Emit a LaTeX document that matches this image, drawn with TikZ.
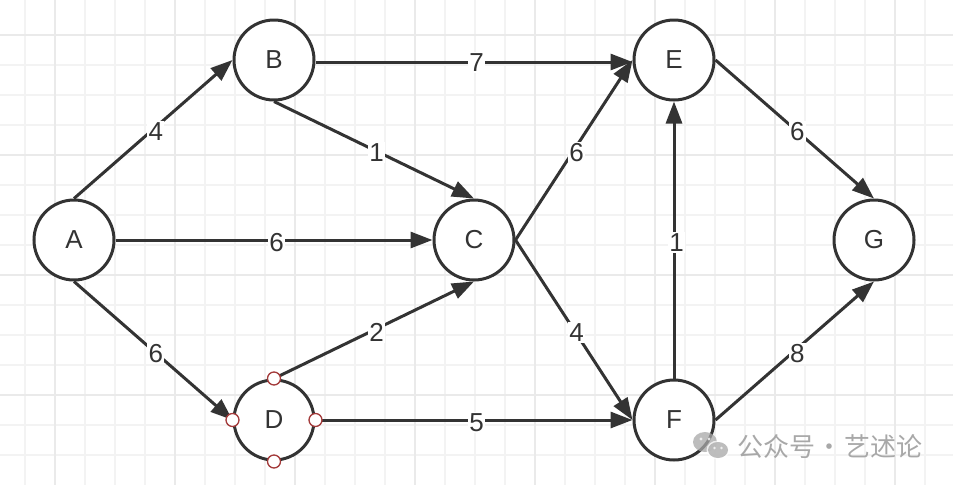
\documentclass[tikz,border=0pt]{standalone}
\usepackage{fontspec}
\setmainfont{Liberation Sans}
\newfontfamily\cjkfont{Noto Sans CJK SC}
\usetikzlibrary{arrows.meta}
\definecolor{ink}{HTML}{333333}
\definecolor{gridminor}{HTML}{F3F3F3}
\definecolor{gridmajor}{HTML}{EAEAEA}
\definecolor{handlered}{HTML}{A33A3A}
\definecolor{wm}{HTML}{A8A8A8}
\begin{document}
\begin{tikzpicture}[x=1pt,y=-1pt,
  vertex/.style={circle,draw=ink,line width=3pt,fill=white,minimum size=80pt,inner sep=0pt,
    font=\fontsize{26}{26}\selectfont,text=ink},
  edge/.style={draw=ink,line width=3pt,-{Triangle[length=22pt,width=16pt]}},
  wt/.style={fill=white,inner sep=1.5pt,xshift=2.5pt,yshift=-2.5pt,font=\fontsize{26}{26}\selectfont,text=ink},
  handle/.style={circle,draw=handlered,fill=white,line width=1.3pt,minimum size=13pt,inner sep=0pt}
]
\useasboundingbox (0,0) rectangle (953,485);
\fill[white] (0,0) rectangle (953,485);
% grid
\foreach \x in {25,55,...,925} {\draw[gridminor,line width=1.6pt] (\x,0) -- (\x,485);}
\foreach \y in {35,65,...,455} {\draw[gridminor,line width=1.6pt] (0,\y) -- (953,\y);}
\foreach \x in {55,175,...,895} {\draw[gridmajor,line width=2pt] (\x,0) -- (\x,485);}
\foreach \y in {35,155,275,395} {\draw[gridmajor,line width=2pt] (0,\y) -- (953,\y);}

% nodes
\node[vertex] (A) at (74,240) {A};
\node[vertex] (B) at (274,60) {B};
\node[vertex] (C) at (474,240) {C};
\node[vertex] (D) at (274,420) {D};
\node[vertex] (E) at (674,60) {E};
\node[vertex] (F) at (674,420) {F};
\node[vertex] (G) at (874,240) {G};

% edges
\draw[edge] (A.north) -- node[wt] {4} (B.west);
\draw[edge] (A.east) -- node[wt] {6} (C.west);
\draw[edge] (A.south) -- node[wt] {6} (D.west);
\draw[edge] ([yshift=-2pt]B.east) -- node[wt,yshift=2pt] {7} ([yshift=-2pt]E.west);
\draw[edge] (B.south) -- node[wt] {1} (C.north);
\draw[edge] (D.north) -- node[wt] {2} (C.south);
\draw[edge] (D.east) -- node[wt] {5} (F.west);
\draw[edge] (C.east) -- node[wt] {6} (E.west);
\draw[edge] (C.east) -- node[wt] {4} (F.west);
\draw[edge] (F.north) -- node[wt] {1} (E.south);
\draw[edge] (E.east) -- node[wt] {6} (G.north);
\draw[edge] (F.east) -- node[wt] {8} (G.south);

% selection handles on D
\node[handle] (Dn) at (D.north) {};
\node[handle] (Ds) at (D.south) {};
\node[handle] (De) at (D.east) {};
\node[handle] (Dw) at (D.west) {};

% watermark
\begin{scope}[opacity=0.75]
\fill[wm] (705,442) ellipse [x radius=12, y radius=10];
\fill[white] (718,450) ellipse [x radius=11.5, y radius=9.5];
\fill[wm] (718,450) ellipse [x radius=10, y radius=8];
\fill[white] (701,439) circle (1.6) (709,439) circle (1.6);
\fill[white] (714.5,448) circle (1.3) (721.5,448) circle (1.3);
\end{scope}
\node[anchor=west,inner sep=0pt,text=wm,font=\cjkfont\fontsize{26}{26}\selectfont] (wmt) at (737,447) {公众号\hspace{1.5pt}·\hspace{1.5pt}艺述论};
\end{tikzpicture}
\end{document}
